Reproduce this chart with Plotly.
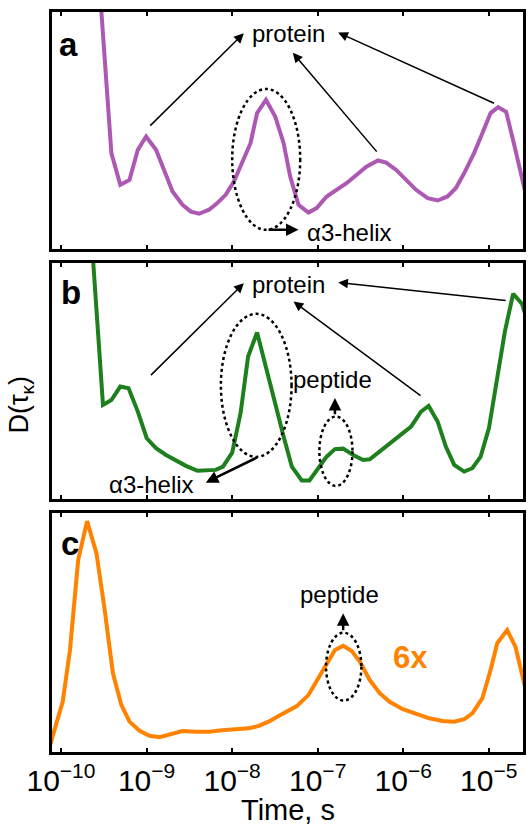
import plotly.graph_objects as go

# ---------------- data (log10 of time in s, D in arbitrary units) ----------------
log_t_a = [-9.562, -9.411, -9.307, -9.199, -9.102, -9.005, -8.889, -8.792, -8.696, -8.580,
           -8.482, -8.386, -8.269, -8.173, -8.075, -7.979, -7.883, -7.785, -7.708, -7.604,
           -7.495, -7.398, -7.321, -7.224, -7.108, -7.012, -6.895, -6.779, -6.663, -6.547,
           -6.431, -6.295, -6.199, -6.082, -5.966, -5.850, -5.714, -5.598, -5.482, -5.386,
           -5.288, -5.172, -5.075, -4.979, -4.890, -4.797, -4.707, -4.611, -4.553]
d_a = [1.177, 0.404, 0.270, 0.291, 0.418, 0.474, 0.418, 0.333, 0.242, 0.186,
       0.157, 0.148, 0.165, 0.193, 0.228, 0.284, 0.362, 0.446, 0.573, 0.629,
       0.558, 0.446, 0.305, 0.186, 0.153, 0.172, 0.221, 0.249, 0.277, 0.312,
       0.347, 0.373, 0.364, 0.333, 0.291, 0.249, 0.214, 0.204, 0.221, 0.256,
       0.319, 0.404, 0.488, 0.573, 0.598, 0.579, 0.446, 0.291, 0.207]

log_t_b = [-9.657, -9.509, -9.411, -9.307, -9.210, -9.102, -8.998, -8.889, -8.772, -8.656,
           -8.540, -8.405, -8.289, -8.192, -8.107, -7.999, -7.901, -7.813, -7.708, -7.611,
           -7.495, -7.398, -7.302, -7.186, -7.096, -6.992, -6.895, -6.798, -6.702, -6.585,
           -6.469, -6.391, -6.275, -6.159, -6.043, -5.908, -5.792, -5.703, -5.598, -5.502,
           -5.404, -5.288, -5.192, -5.095, -4.998, -4.901, -4.812, -4.715, -4.611, -4.553]
d_b = [1.182, 0.398, 0.419, 0.476, 0.469, 0.370, 0.257, 0.215, 0.186, 0.162,
       0.140, 0.119, 0.120, 0.123, 0.137, 0.196, 0.363, 0.603, 0.705, 0.568,
       0.391, 0.264, 0.137, 0.078, 0.078, 0.130, 0.179, 0.211, 0.213, 0.186,
       0.165, 0.168, 0.200, 0.236, 0.264, 0.306, 0.370, 0.394, 0.328, 0.222,
       0.144, 0.116, 0.130, 0.179, 0.300, 0.504, 0.709, 0.869, 0.826, 0.758]

log_t_c = [-10.151, -10.081, -9.980, -9.895, -9.799, -9.695, -9.585, -9.489, -9.393, -9.295,
           -9.199, -9.082, -8.966, -8.850, -8.754, -8.656, -8.580, -8.424, -8.269, -8.115,
           -7.959, -7.805, -7.689, -7.573, -7.456, -7.340, -7.244, -7.108, -6.992, -6.895,
           -6.798, -6.702, -6.605, -6.508, -6.391, -6.275, -6.159, -6.005, -5.850, -5.695,
           -5.540, -5.404, -5.288, -5.192, -5.075, -4.979, -4.901, -4.785, -4.689, -4.603,
           -4.553]
d_c = [0.000, 0.085, 0.210, 0.427, 0.803, 0.966, 0.831, 0.594, 0.329, 0.197,
       0.127, 0.089, 0.068, 0.062, 0.070, 0.082, 0.088, 0.085, 0.085, 0.091,
       0.095, 0.099, 0.109, 0.127, 0.151, 0.172, 0.192, 0.238, 0.308, 0.374,
       0.427, 0.444, 0.424, 0.378, 0.301, 0.246, 0.210, 0.179, 0.158, 0.141,
       0.130, 0.127, 0.137, 0.162, 0.225, 0.343, 0.455, 0.510, 0.441, 0.301,
       0.238]

tick_vals = [1e-10, 1e-9, 1e-8, 1e-7, 1e-6, 1e-5]
tick_text = ["10<sup>\u221210</sup>", "10<sup>\u22129</sup>", "10<sup>\u22128</sup>",
             "10<sup>\u22127</sup>", "10<sup>\u22126</sup>", "10<sup>\u22125</sup>"]

colors = {"a": "#AD59B3", "b": "#1D801D", "c": "#FF8200"}

FONT = "Liberation Sans, Arial, sans-serif"
X_RANGE = [-10.105, -4.60]

fig = go.Figure()
for key, lt, d, xa, ya in [("a", log_t_a, d_a, "x", "y"),
                           ("b", log_t_b, d_b, "x2", "y2"),
                           ("c", log_t_c, d_c, "x3", "y3")]:
    fig.add_trace(go.Scatter(x=[10 ** e for e in lt], y=d, mode="lines",
                             line=dict(color=colors[key], width=4),
                             xaxis=xa, yaxis=ya, showlegend=False, hoverinfo="skip"))

domains = {"a": [0.680, 1.0], "b": [0.342, 0.661], "c": [0.0, 0.323]}

def xaxis_cfg(anchor, labels):
    return dict(type="log", range=X_RANGE, anchor=anchor, domain=[0, 1],
                showline=True, linewidth=3, linecolor="black", mirror="ticks",
                ticks="inside", ticklen=4, tickwidth=2, tickcolor="black",
                tickvals=tick_vals, ticktext=tick_text, showticklabels=labels,
                showgrid=False, zeroline=False,
                tickfont=dict(family=FONT, size=30, color="black"))

def yaxis_cfg(anchor, dom):
    return dict(range=[0, 1], anchor=anchor, domain=dom, showline=True, linewidth=3,
                linecolor="black", mirror=True, ticks="", showticklabels=False,
                showgrid=False, zeroline=False)

fig.update_layout(
    xaxis=xaxis_cfg("y", False), yaxis=yaxis_cfg("x", domains["a"]),
    xaxis2=xaxis_cfg("y2", False), yaxis2=yaxis_cfg("x2", domains["b"]),
    xaxis3=xaxis_cfg("y3", True), yaxis3=yaxis_cfg("x3", domains["c"]),
)

ann = []
def text(x, y, s, xr, yr, size=24, bold=False, color="black"):
    ann.append(dict(x=x, y=y, xref=xr, yref=yr, text=("<b>%s</b>" % s) if bold else s,
                    showarrow=False, xanchor="center", yanchor="middle",
                    font=dict(family=FONT, size=size, color=color)))

def arrow(hx, hy, tx, ty, xr, yr, w=1.5, size=1.3):
    ann.append(dict(x=hx, y=hy, ax=tx, ay=ty, xref=xr, yref=yr, axref=xr, ayref=yr,
                    text="", showarrow=True, arrowhead=2, arrowsize=size,
                    arrowwidth=w, arrowcolor="black", standoff=0, startstandoff=0))

# panel a
text(-9.907, 0.863, "a", "x", "y", size=33, bold=True)
text(-7.346, 0.908, "protein", "x", "y")
text(-6.624, 0.068, "\u03b13-helix", "x", "y")
arrow(-7.863, 0.910, -8.974, 0.514, "x", "y")
arrow(-7.290, 0.828, -6.295, 0.404, "x", "y")
arrow(-6.760, 0.913, -4.921, 0.612, "x", "y")
arrow(-7.224, 0.080, -7.592, 0.080, "x", "y", w=2.5, size=1.0)

# panel b
text(-9.884, 0.875, "b", "x2", "y2", size=33, bold=True)
text(-7.346, 0.909, "protein", "x2", "y2")
text(-6.823, 0.506, "peptide", "x2", "y2")
text(-8.943, 0.061, "\u03b13-helix", "x2", "y2")
arrow(-7.863, 0.914, -8.966, 0.518, "x2", "y2")
arrow(-7.282, 0.836, -5.780, 0.433, "x2", "y2")
arrow(-6.760, 0.917, -4.785, 0.840, "x2", "y2")
arrow(-8.308, 0.069, -7.689, 0.179, "x2", "y2", w=2.5, size=1.0)
arrow(-6.798, 0.427, -6.798, 0.352, "x2", "y2", w=2.5, size=1.0)

# panel c
text(-9.895, 0.872, "c", "x3", "y3", size=33, bold=True)
text(-6.740, 0.659, "peptide", "x3", "y3")
text(-5.912, 0.395, "6x", "x3", "y3", size=31, bold=True, color=colors["c"])
arrow(-6.702, 0.580, -6.702, 0.503, "x3", "y3", w=2.5, size=1.0)

# axis titles
ann.append(dict(x=0.5, y=-0.078, xref="paper", yref="paper", text="Time, s",
                showarrow=False, xanchor="center", yanchor="middle",
                font=dict(family=FONT, size=29, color="black")))
ann.append(dict(x=-0.065, y=0.470, xref="paper", yref="paper", text="D(\u03c4<sub>\u03ba</sub>)",
                showarrow=False, xanchor="center", yanchor="middle", textangle=-90,
                font=dict(family=FONT, size=27, color="black")))

shapes = []
def ellipse(lx0, lx1, y0, y1, xr, yr):
    # shapes on log axes take data values
    shapes.append(dict(type="circle", xref=xr, yref=yr, x0=10 ** lx0, x1=10 ** lx1,
                       y0=y0, y1=y1, line=dict(color="black", width=2.5, dash="dot")))

ellipse(-7.999, -7.204, 0.080, 0.675, "x", "y")
ellipse(-8.131, -7.305, 0.178, 0.784, "x2", "y2")
ellipse(-6.980, -6.593, 0.055, 0.349, "x2", "y2")
ellipse(-6.902, -6.489, 0.215, 0.499, "x3", "y3")

fig.update_layout(annotations=ann, shapes=shapes, width=529, height=825,
                  margin=dict(l=52, r=3, t=12, b=73), plot_bgcolor="white",
                  paper_bgcolor="white", font=dict(family=FONT, color="black"))

fig.write_html("out.html")
